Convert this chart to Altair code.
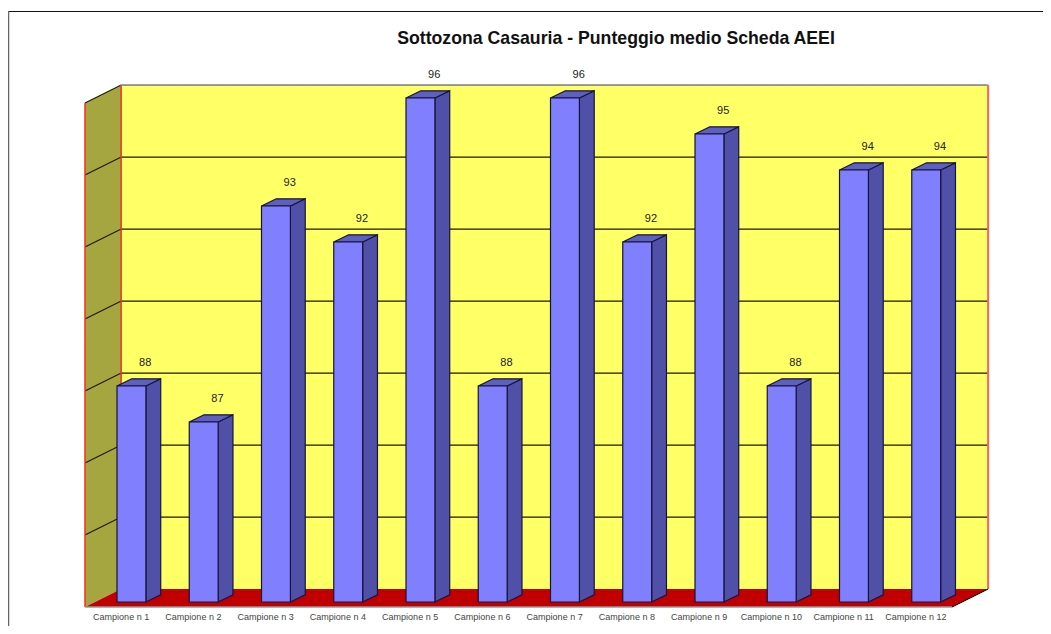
import altair as alt
import pandas as pd

title_text = "Sottozona Casauria - Punteggio medio Scheda AEEI"
categories = [f"Campione n {i}" for i in range(1, 13)]
values = [88, 87, 93, 92, 96, 88, 96, 92, 95, 88, 94, 94]
wall_levels = [0, 1, 2, 3, 4, 5, 6, 7]

W, H = 1035, 618
PX_X, PX_Y = 72.25, 36.0
X0, Y0 = 85 - 8, 602 - 8
x_dom = [-X0 / PX_X, (W - X0) / PX_X]
y_dom = [82 - (H - Y0) / PX_Y, 82 + Y0 / PX_Y]
n = len(values)
FLOOR, STEP = 81.86, 2.0
WALL_D = 0.5
BAR_L, BAR_W, BAR_DX, BAR_DY = 0.443, 0.40, 0.205, 0.2

X = alt.Scale(domain=x_dom, nice=False, zero=False)
Y = alt.Scale(domain=y_dom, nice=False, zero=False)
qx = lambda f: alt.X(f, type="quantitative", scale=X, axis=None)
qy = lambda f: alt.Y(f, type="quantitative", scale=Y, axis=None)
x2 = lambda f: alt.X2(f)
y2 = lambda f: alt.Y2(f)
top_val = FLOOR + STEP * wall_levels[-1]

# Walls and floor
back = pd.DataFrame({"x": [WALL_D, n + WALL_D], "y": [FLOOR + WALL_D] * 2, "y2": [top_val + WALL_D] * 2})
side = pd.DataFrame({"x": [0, WALL_D], "y": [FLOOR, FLOOR + WALL_D], "y2": [top_val, top_val + WALL_D]})
floor = pd.DataFrame({"y": [FLOOR, FLOOR + WALL_D], "x": [0, WALL_D], "x2": [n, n + WALL_D]})

back_l = alt.Chart(back).mark_area(color="#FFFF66").encode(x=qx("x"), y=qy("y"), y2=y2("y2"))
side_l = alt.Chart(side).mark_area(color="#A6A640").encode(x=qx("x"), y=qy("y"), y2=y2("y2"))
floor_l = alt.Chart(floor).mark_area(color="#C00000", orient="horizontal").encode(y=qy("y"), x=qx("x"), x2=x2("x2"))

# Grid lines (back wall + side wall)
grid_rows = []
for k in wall_levels[1:]:
    v = FLOOR + STEP * k
    grid_rows += [
        {"k": k, "o": 0, "x": 0, "y": v},
        {"k": k, "o": 1, "x": WALL_D, "y": v + WALL_D},
        {"k": k, "o": 2, "x": n + WALL_D, "y": v + WALL_D},
    ]
grid_l = alt.Chart(pd.DataFrame(grid_rows)).mark_line(color="#1a1a00", strokeWidth=1.2).encode(
    x=qx("x"), y=qy("y"), detail="k:N", order="o:Q")

# Wall edges
edges = pd.DataFrame([
    {"e": "a", "o": 0, "x": 0, "y": FLOOR},
    {"e": "a", "o": 1, "x": 0, "y": top_val},
    {"e": "b", "o": 0, "x": WALL_D, "y": FLOOR + WALL_D},
    {"e": "b", "o": 1, "x": WALL_D, "y": top_val + WALL_D},
])
edges_l = alt.Chart(edges).mark_line(color="#F03020", strokeWidth=1.5).encode(
    x=qx("x"), y=qy("y"), detail="e:N", order="o:Q")
right = pd.DataFrame({"x": [n + WALL_D] * 2, "y": [FLOOR + WALL_D, top_val + WALL_D]})
right_l = alt.Chart(right).mark_line(color="#FF6060", strokeWidth=2).encode(x=qx("x"), y=qy("y"))
top_edge = pd.DataFrame({"x": [WALL_D, n + WALL_D], "y": [top_val + WALL_D] * 2})
top_edge_l = alt.Chart(top_edge).mark_line(color="#A8A8A8", strokeWidth=1.5).encode(x=qx("x"), y=qy("y"))
front_edge = pd.DataFrame({"x": [0, n], "y": [FLOOR, FLOOR]})
front_edge_l = alt.Chart(front_edge).mark_line(color="#999999", strokeWidth=1.5).encode(x=qx("x"), y=qy("y"))
diag = pd.DataFrame({"x": [n, n + WALL_D], "y": [FLOOR, FLOOR + WALL_D]})
diag_l = alt.Chart(diag).mark_line(color="#000000", strokeWidth=1).encode(x=qx("x"), y=qy("y"))

# Bars
fronts, sides, tops = [], [], []
for i, v in enumerate(values):
    l = i + BAR_L
    r = l + BAR_W
    fronts.append({"x": l, "x2": r, "y": 82, "y2": v, "cat": categories[i]})
    sides += [
        {"b": i, "x": r, "y": 82, "y2": v},
        {"b": i, "x": r + BAR_DX, "y": 82 + BAR_DY, "y2": v + BAR_DY},
    ]
    tops += [
        {"b": i, "y": v, "x": l, "x2": r},
        {"b": i, "y": v + BAR_DY, "x": l + BAR_DX, "x2": r + BAR_DX},
    ]
fronts, sides, tops = map(pd.DataFrame, (fronts, sides, tops))

STROKE = "#15153a"
side_b = alt.Chart(sides).mark_area(color="#5050A8", stroke=STROKE, strokeWidth=1.2).encode(
    x=qx("x"), y=qy("y"), y2=y2("y2"), detail="b:N")
top_b = alt.Chart(tops).mark_area(color="#5F5FC0", stroke=STROKE, strokeWidth=1.2, orient="horizontal").encode(
    y=qy("y"), x=qx("x"), x2=x2("x2"), detail="b:N")
front_b = alt.Chart(fronts).mark_rect(color="#8080FF", stroke=STROKE, strokeWidth=1.2).encode(
    x=qx("x"), x2=x2("x2"), y=qy("y"), y2=y2("y2"))

# Text
labels = pd.DataFrame({
    "x": [i + BAR_L + 0.39 for i in range(n)],
    "y": values,
    "t": [str(v) for v in values],
})
val_l = alt.Chart(labels).mark_text(
    font="Liberation Sans", fontSize=11, color="#222222", dy=-23, baseline="middle"
).encode(x=qx("x"), y=qy("y"), text="t:N")

cats = pd.DataFrame({"x": [i + 0.5 for i in range(n)], "y": [81.58] * n, "t": categories})
cat_l = alt.Chart(cats).mark_text(
    font="Liberation Sans", fontSize=9, color="#444444", baseline="middle"
).encode(x=qx("x"), y=qy("y"), text="t:N")

title_l = alt.Chart(pd.DataFrame({"t": [title_text]})).mark_text(
    font="Liberation Sans", fontSize=17.7, fontWeight="bold", color="#111111", baseline="middle"
).encode(x=alt.value(608), y=alt.value(31), text="t:N")

frame_top = alt.Chart(pd.DataFrame({"a": [0]})).mark_rule(color="#111111", strokeWidth=1).encode(
    x=alt.value(0), x2=alt.value(W), y=alt.value(3.5))
frame_left = alt.Chart(pd.DataFrame({"a": [0]})).mark_rule(color="#666666", strokeWidth=1.5).encode(
    x=alt.value(0.5), y=alt.value(3), y2=alt.value(H))

chart = alt.layer(
    frame_top, frame_left,
    back_l, side_l, floor_l, grid_l, edges_l, right_l, top_edge_l, front_edge_l, diag_l,
    side_b, top_b, front_b, val_l, cat_l, title_l,
).properties(
    width=W, height=H, padding=0, background="white",
    autosize=alt.AutoSizeParams(type="none"),
).configure_view(stroke=None)

chart.save("out.html", embed_options={"renderer": "svg", "actions": False})
